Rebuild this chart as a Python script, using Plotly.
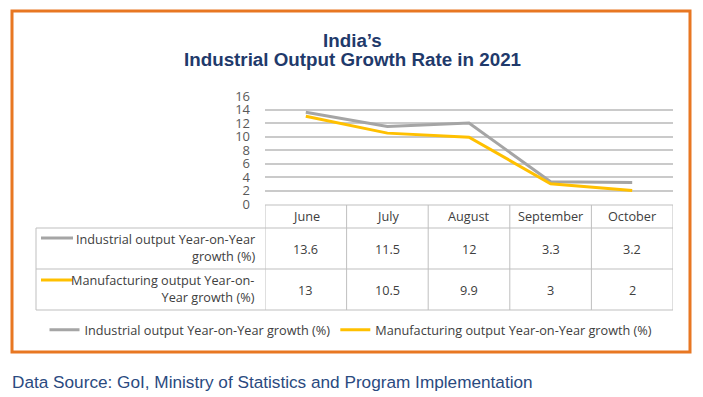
import plotly.graph_objects as go

months = ["June", "July", "August", "September", "October"]
industrial = [13.6, 11.5, 12, 3.3, 3.2]
manufacturing = [13, 10.5, 9.9, 3, 2]
series_names = ["Industrial output Year-on-Year growth (%)",
                "Manufacturing output Year-on-Year growth (%)"]
row_labels = ["Industrial output Year-on-Year<br>growth (%)",
              "Manufacturing output Year-on-<br>Year growth (%)"]
colors = ["#A5A5A5", "#FFC000"]
y_ticks = [0, 2, 4, 6, 8, 10, 12, 14, 16]
title_lines = ["India’s", "Industrial Output Growth Rate in 2021"]
source_text = "Data Source: GoI, Ministry of Statistics and Program Implementation"

W, H = 703, 397
OX, OY = 8, 8  # page body margin offset
def px(x): return (x - OX) / W
def py(y): return 1 - (y - OY) / H

TXT = "#404040"
FONT = "Open Sans"
GRID = "#CACACA"
FS = 12.7

fig = go.Figure()
xs = list(range(len(months)))
for name, vals, c in zip(series_names, [industrial, manufacturing], colors):
    fig.add_trace(go.Scatter(x=xs, y=vals, mode="lines", name=name,
                             line=dict(color=c, width=3)))

shapes = []
ann = []
shapes.append(dict(type="rect", xref="paper", yref="paper",
                   x0=px(12), x1=px(690), y0=py(352), y1=py(11),
                   line=dict(color="#E87722", width=3), fillcolor="rgba(0,0,0,0)"))

left = 36
hdr_top, hdr_bot, r1_bot, r2_bot = 205, 228, 269, 310
line = dict(color="#BFBFBF", width=1)
for i in range(len(months) + 1):
    shapes.append(dict(type="line", xref="x", yref="paper",
                       x0=i - 0.5, x1=i - 0.5, y0=py(hdr_top), y1=py(r2_bot), line=line))
shapes.append(dict(type="line", xref="paper", yref="paper",
                   x0=px(left), x1=px(left), y0=py(hdr_bot), y1=py(r2_bot), line=line))
shapes.append(dict(type="line", xref="x", yref="paper",
                   x0=-0.5, x1=len(months) - 0.5, y0=py(hdr_top), y1=py(hdr_top), line=line))
for yy in [hdr_bot, r1_bot, r2_bot]:
    shapes.append(dict(type="line", xref="paper", yref="paper",
                       x0=px(left), x1=px(673), y0=py(yy), y1=py(yy), line=line))

for i, m in enumerate(months):
    ann.append(dict(x=i, y=py((hdr_top + hdr_bot) / 2 - 1), xref="x", yref="paper",
                    yanchor="middle", text=m, showarrow=False,
                    font=dict(family=FONT, size=FS, color=TXT)))
for r, vals in enumerate([industrial, manufacturing]):
    yc = [(hdr_bot + r1_bot) / 2, (r1_bot + r2_bot) / 2][r]
    for i, v in enumerate(vals):
        ann.append(dict(x=i, y=py(yc), xref="x", yref="paper", yanchor="middle",
                        text=f"{v:g}", showarrow=False,
                        font=dict(family=FONT, size=FS, color=TXT)))
    ann.append(dict(x=px(257), y=py(yc - 1), xref="paper", yref="paper", text=row_labels[r],
                    xanchor="right", yanchor="middle", align="right", showarrow=False,
                    font=dict(family=FONT, size=FS, color=TXT)))
    ky = [238, 280][r]
    shapes.append(dict(type="line", xref="paper", yref="paper",
                       x0=px(41), x1=px(73), y0=py(ky), y1=py(ky),
                       line=dict(color=colors[r], width=3)))

for t, yy in zip(title_lines, [41, 59]):
    ann.append(dict(x=px(352), y=py(yy), xref="paper", yref="paper",
                    text=f"<b>{t}</b>", showarrow=False, yanchor="middle",
                    font=dict(family="Liberation Sans", size=18.8, color="#1F3A6B")))
ann.append(dict(x=px(10), y=py(382), xref="paper", yref="paper", xanchor="left",
                yanchor="middle", text=source_text, showarrow=False,
                font=dict(family="Liberation Sans", size=17.2, color="#2A4A80")))

fig.update_layout(
    width=W, height=H, autosize=False,
    margin=dict(l=0, r=0, t=0, b=0, pad=0, autoexpand=False),
    paper_bgcolor="white", plot_bgcolor="white",
    shapes=shapes, annotations=ann,
    showlegend=True,
    legend=dict(orientation="h", x=px(351), xanchor="center", y=py(330), yanchor="middle",
                font=dict(family=FONT, size=FS, color=TXT), itemwidth=30,
                bgcolor="rgba(0,0,0,0)"),
    xaxis=dict(domain=[px(265), px(673)], range=[-0.5, len(months) - 0.5], automargin=False,
               showgrid=False, showticklabels=False, zeroline=False, showline=False),
    yaxis=dict(domain=[py(204), py(96)], range=[0, 16], tickvals=y_ticks, automargin=False,
               showgrid=True, gridcolor=GRID, gridwidth=1.6, zeroline=False, showline=False,
               ticklabelstandoff=14,
               tickfont=dict(family=FONT, size=13, color="#595959")),
)

fig.write_html("out.html")
